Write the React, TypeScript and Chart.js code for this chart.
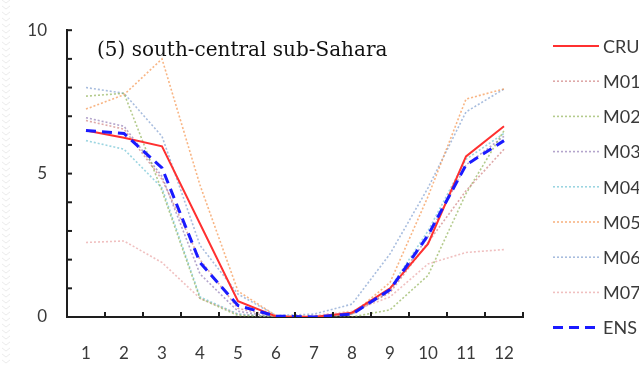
import React, { useEffect, useRef } from "react";
import { Chart, registerables } from "chart.js";

Chart.register(...registerables);

const months = ["1", "2", "3", "4", "5", "6", "7", "8", "9", "10", "11", "12"];
const yTickLabels = [0, 5, 10];
const titleText = "(5) south-central sub-Sahara";

const CRU = [6.5, 6.25, 5.95, 3.25, 0.55, 0.02, 0.0, 0.15, 1.0, 2.55, 5.6, 6.65];
const M01 = [6.85, 6.55, 4.8, 2.0, 0.3, 0.02, 0.02, 0.15, 0.85, 2.6, 4.4, 5.85];
const M02 = [7.7, 7.8, 4.4, 0.65, 0.05, 0.0, 0.0, 0.0, 0.25, 1.45, 4.3, 6.5];
const M03 = [6.95, 6.65, 4.9, 1.5, 0.2, 0.0, 0.0, 0.1, 0.9, 2.8, 5.3, 6.3];
const M04 = [6.15, 5.85, 4.5, 0.7, 0.1, 0.0, 0.0, 0.1, 1.0, 3.0, 5.5, 6.4];
const M05 = [7.25, 7.75, 9.0, 4.6, 0.9, 0.05, 0.0, 0.1, 1.2, 4.2, 7.6, 7.95];
const M06 = [8.0, 7.8, 6.3, 2.5, 0.8, 0.05, 0.1, 0.45, 2.2, 4.5, 7.15, 7.95];
const M07 = [2.6, 2.65, 1.9, 0.65, 0.1, 0.0, 0.05, 0.2, 0.7, 1.85, 2.25, 2.35];
const ENS = [6.5, 6.4, 5.2, 1.9, 0.4, 0.03, 0.0, 0.1, 0.95, 2.85, 5.3, 6.15];

const seriesNames = ["CRU", "M01", "M02", "M03", "M04", "M05", "M06", "M07", "ENS"];
const seriesValues = [CRU, M01, M02, M03, M04, M05, M06, M07, ENS];

const AXIS_LINE = "#1e1e1e";
const TEXT = "#3a3a3a";

const styles: Record<string, any> = {
  CRU: { color: "#ff3030", width: 2, dash: [], order: 1 },
  M01: { color: "rgba(200,110,110,0.6)", width: 1.6, dash: [2, 2], order: 2 },
  M02: { color: "rgba(140,175,80,0.65)", width: 1.6, dash: [2, 2], order: 2 },
  M03: { color: "rgba(130,105,170,0.6)", width: 1.6, dash: [2, 2], order: 2 },
  M04: { color: "rgba(90,185,205,0.6)", width: 1.6, dash: [2, 2], order: 2 },
  M05: { color: "rgba(245,150,80,0.7)", width: 1.6, dash: [2, 2], order: 2 },
  M06: { color: "rgba(110,145,200,0.6)", width: 1.6, dash: [2, 2], order: 2 },
  M07: { color: "rgba(230,150,150,0.6)", width: 1.6, dash: [2, 2], order: 2 },
  ENS: { color: "#1a1aff", width: 3, dash: [10, 6], order: 0 },
};

const decorPlugin = {
  id: "decor",
  beforeDraw(chart: any) {
    const ctx = chart.ctx;
    ctx.save();
    ctx.fillStyle = "#ffffff";
    ctx.fillRect(0, 0, chart.width, chart.height);
    ctx.strokeStyle = "#ececec";
    ctx.lineWidth = 1;
    for (let y = 0; y < chart.height; y += 6) {
      ctx.beginPath();
      ctx.moveTo(2, y);
      ctx.lineTo(6, y + 3);
      ctx.lineTo(10, y);
      ctx.stroke();
    }
    ctx.restore();
  },
  afterDraw(chart: any) {
    const ctx = chart.ctx;
    const { left, right, bottom } = chart.chartArea;
    const ys = chart.scales.y;
    ctx.save();
    ctx.setLineDash([]);
    ctx.strokeStyle = AXIS_LINE;
    ctx.lineWidth = 2;
    ctx.lineCap = "butt";
    // inward tick marks on y
    for (let v = 0; v <= 10; v++) {
      const y = ys.getPixelForValue(v);
      ctx.beginPath();
      ctx.moveTo(left - 1, y);
      ctx.lineTo(left + 5, y);
      ctx.stroke();
    }
    // inward tick marks on x (category boundaries)
    const n = months.length;
    for (let i = 0; i <= n; i++) {
      const x = left + (i * (right - left)) / n;
      ctx.beginPath();
      ctx.moveTo(x, bottom + 1);
      ctx.lineTo(x, bottom - 5);
      ctx.stroke();
    }
    // title
    ctx.fillStyle = "#111111";
    ctx.font = "20px 'DejaVu Serif'";
    ctx.textBaseline = "alphabetic";
    ctx.textAlign = "left";
    ctx.fillText(titleText, 97, 56);
    // legend
    const lx0 = 553;
    const lx1 = 599;
    const y0 = 46;
    const step = 35.2;
    ctx.font = "18px Lato";
    ctx.textBaseline = "middle";
    seriesNames.forEach((name, i) => {
      const s = styles[name];
      const y = y0 + i * step;
      ctx.strokeStyle = s.color;
      ctx.lineWidth = s.width;
      ctx.setLineDash(s.dash);
      ctx.beginPath();
      ctx.moveTo(lx0, y);
      ctx.lineTo(lx1, y);
      ctx.stroke();
      ctx.setLineDash([]);
      ctx.fillStyle = TEXT;
      ctx.fillText(name, 603, y + 1);
    });
    ctx.restore();
  },
};

export default function App() {
  const ref = useRef<HTMLCanvasElement | null>(null);
  useEffect(() => {
    if (!ref.current) return;
    const chart = new Chart(ref.current, {
      type: "line",
      data: {
        labels: months,
        datasets: seriesNames.map((name, i) => ({
          label: name,
          data: seriesValues[i],
          borderColor: styles[name].color,
          borderWidth: styles[name].width,
          borderDash: styles[name].dash,
          pointRadius: 0,
          tension: 0,
          fill: false,
          order: styles[name].order,
        })),
      },
      options: {
        animation: false,
        responsive: false,
        maintainAspectRatio: false,
        layout: { padding: { left: 0, right: 116, top: 14, bottom: 0 } },
        plugins: { legend: { display: false }, tooltip: { enabled: false } },
        scales: {
          x: {
            offset: true,
            grid: { display: false, drawTicks: false },
            border: { display: true, color: AXIS_LINE, width: 2 },
            ticks: {
              color: TEXT,
              font: { family: "Lato", size: 17 },
              padding: 26,
              maxRotation: 0,
            },
            afterFit(scale: any) {
              scale.height = 49;
            },
          },
          y: {
            min: 0,
            max: 10,
            grid: { display: false, drawTicks: false },
            border: { display: true, color: AXIS_LINE, width: 2 },
            ticks: {
              stepSize: 1,
              color: TEXT,
              font: { family: "Lato", size: 17 },
              padding: 20,
              callback: (v: any) => (yTickLabels.includes(Number(v)) ? String(v) : ""),
            },
            afterFit(scale: any) {
              scale.width = 67;
            },
          },
        },
      },
      plugins: [decorPlugin],
    });
    return () => chart.destroy();
  }, []);
  return (
    <div style={{ position: "fixed", left: 0, top: 0, width: 639, height: 366, background: "#fff" }}>
      <canvas ref={ref} width={639} height={366} style={{ display: "block" }} />
    </div>
  );
}
